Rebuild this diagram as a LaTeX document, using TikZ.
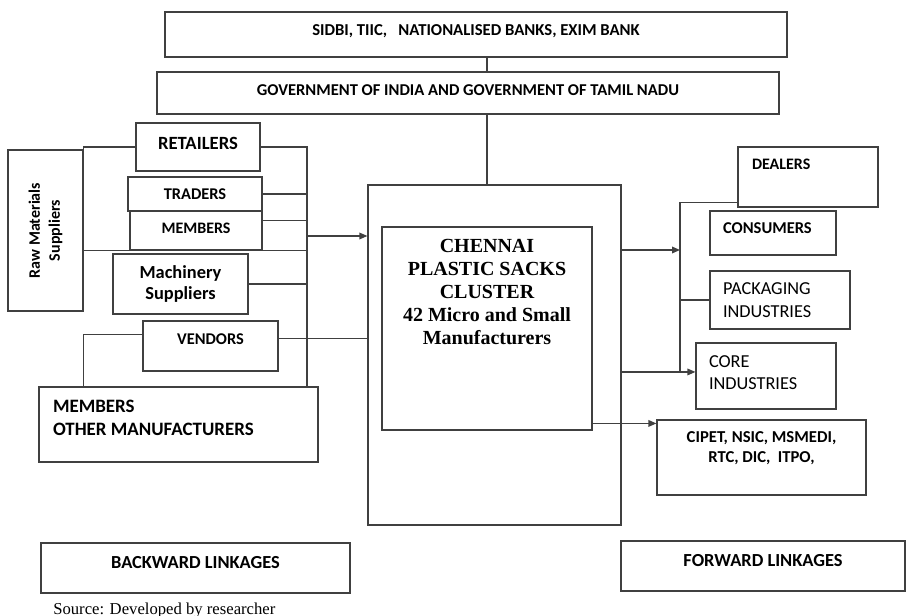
\documentclass[tikz,border=0pt]{standalone}
\usepackage{fontspec}
\setmainfont{Carlito}
\newfontfamily\timesfont{Liberation Serif}
\usetikzlibrary{arrows.meta,positioning,calc}
\tikzset{
  sz/.style 2 args={minimum width=#1*0.75pt, minimum height=#2*0.75pt},
  fs/.style 2 args={font=\fontsize{#1}{#2}\selectfont\bfseries}
}

\begin{document}
\begin{tikzpicture}[x=0.75pt, y=-0.75pt,
  box/.style={rectangle, draw=black!75, line width=0.9pt, inner sep=0pt, align=center, font=\bfseries},
  ln/.style={draw=black!75, line width=0.9pt},
  arr/.style={ln, -{Triangle[length=6pt, width=5pt]}}
]
  \useasboundingbox (0,0) rectangle (906,616);

  % financing and government
  \node[box, sz={622}{45}, fs={12.5}{15}, text depth=6.75pt] (sidbi) at (476,34.5) {SIDBI, TIIC,\ \ \ NATIONALISED BANKS, EXIM BANK};
  \node[box, sz={622}{42}, fs={12.4}{15}, text depth=4.5pt] (gov) at (468,93) {GOVERNMENT OF INDIA AND GOVERNMENT OF TAMIL NADU};

  % backward side
  \node[box, sz={161}{75}, fs={12}{15}, rotate=90] (raw) at (45.5,230.5) {Raw Materials\\Suppliers};
  \node[box, sz={124}{48}, fs={14}{16}, text depth=6pt] (retail) at (198,147) {RETAILERS};
  \node[box, sz={134}{34}, fs={12.3}{15}] (traders) at (195,194) {TRADERS};
  \node[box, sz={132}{39}, fs={12}{15}, text depth=3.75pt] (members) at (196,230.5) {MEMBERS};
  \node[box, sz={135}{60}, fs={13.8}{15.75}] (mach) at (180.5,284) {Machinery\\Suppliers};
  \node[box, sz={135}{50}, fs={12.3}{15}, text depth=10.5pt] (vendors) at (210.5,346) {VENDORS};
  \node[box, sz={279}{75}, fs={14.2}{17.25}, text width=188.25pt, align=flush left, text depth=27.75pt] (others) at (178.5,424.5) {MEMBERS\\OTHER MANUFACTURERS};

  % cluster
  \node[box, sz={253}{340}] (outer) at (494.5,355) {};
  \node[box, sz={210}{203}, font=\timesfont\fontsize{15}{17.25}\selectfont\bfseries, text height=88pt, text depth=64pt] (cluster) at (487,328.5) {CHENNAI\\PLASTIC SACKS\\CLUSTER\\42 Micro and Small\\Manufacturers};

  % forward side
  \node[box, sz={140}{60}, fs={12}{15}, text width=84pt, align=flush left, text depth=19.5pt] (dealers) at (808,177) {DEALERS};
  \node[box, sz={126}{44}, fs={12.4}{15}, text width=75pt, align=flush left, text depth=7.5pt] (consumers) at (773,233) {CONSUMERS};
  \node[box, sz={140}{58}, font=\fontsize{13.7}{17.25}\selectfont, text width=85.5pt, align=flush left] (packaging) at (780,300) {PACKAGING\\INDUSTRIES};
  \node[box, sz={140}{66}, font=\fontsize{13.7}{16.5}\selectfont, text width=85.5pt, align=flush left, text depth=21pt] (core) at (766,376) {CORE\\INDUSTRIES};
  \node[box, sz={209}{75}, fs={12.5}{15}, text depth=15.5pt] (agencies) at (761.5,457.5) {CIPET, NSIC, MSMEDI,\\RTC, DIC,\ \ ITPO,};

  % legend
  \node[box, sz={309}{50}, fs={13.8}{16}, text depth=9pt] (backward) at (195.5,568) {BACKWARD LINKAGES};
  \node[box, sz={284}{50}, fs={13.8}{16}, text depth=9pt] (forward) at (763,566) {FORWARD LINKAGES};
  \node[font=\timesfont\fontsize{12.5}{15}\selectfont, anchor=base west, inner sep=0pt] (source) at (53,614) {Source: Developed by researcher};

  % buses
  \coordinate (lbus) at (307,148);
  \coordinate (rbus) at (680,202);
  \coordinate (lin) at (307,236);
  \coordinate (rin) at (680,250);
  \path ($(core.north west)!0.44!(core.south west)$) coordinate (c1);
  \path ($(agencies.north west)!0.053!(agencies.south west)$) coordinate (a1);

  % backward links (raw.south is the right side of the turned box)
  \draw[ln] (retail.west) -| (raw.south |- members.south) -- (members.south -| lbus);
  \draw[ln] (retail.east) -| (lbus |- others.north);
  \draw[ln] (traders.east) -- (traders.east -| lbus);
  \draw[ln] ($(members.north east)!0.25!(members.south east)$) coordinate (m1) -- (m1 -| lbus);
  \draw[ln] (mach.east) -- (mach.east -| lbus);
  \draw[arr] (lin) -- (lin -| outer.west);
  \draw[ln] ($(vendors.north west)!0.28!(vendors.south west)$) -| (raw.south |- others.north);
  \draw[ln] ($(vendors.north east)!0.36!(vendors.south east)$) coordinate (v1) -- (v1 -| outer.west);

  % top links
  \draw[ln] (sidbi.south -| cluster.north) -- (gov.north -| cluster.north);
  \draw[ln] (gov.south -| cluster.north) -- (outer.north -| cluster.north);

  % forward links
  \draw[arr] (rin -| outer.east) -- (rin);
  \draw[ln] ($(dealers.north west)!0.92!(dealers.south west)$) -| (rbus |- c1);
  \draw[ln] (rbus |- packaging.west) -- (packaging.west);
  \draw[arr] (c1 -| outer.east) -- (c1);
  \draw[arr] (a1 -| cluster.east) -- (a1);
\end{tikzpicture}
\end{document}
